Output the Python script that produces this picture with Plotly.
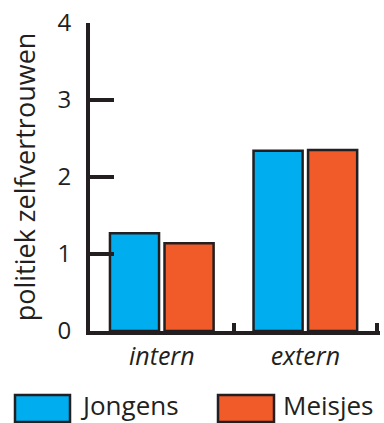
import plotly.graph_objects as go

categories = ["intern", "extern"]
jongens = [1.27, 2.34]
meisjes = [1.14, 2.35]
series_names = ["Jongens", "Meisjes"]
y_ticks = [0, 1, 2, 3, 4]

INK = "#231f20"
BLUE = "#00aeef"
ORANGE = "#f15a29"
FONT = "Open Sans"

fig = go.Figure()
fig.add_trace(go.Bar(x=categories, y=jongens, name=series_names[0],
                     marker=dict(color=BLUE, line=dict(color=INK, width=2.5))))
fig.add_trace(go.Bar(x=categories, y=meisjes, name=series_names[1],
                     marker=dict(color=ORANGE, line=dict(color=INK, width=2.5))))

fig.update_layout(
    width=384, height=423,
    margin=dict(l=90, r=4, t=23, b=92),
    paper_bgcolor="white", plot_bgcolor="white",
    barmode="group", bargap=0.24, bargroupgap=0.1,
    showlegend=False,
    font=dict(family=FONT, color=INK),
)
fig.update_xaxes(
    type="category", range=[-0.5, 1.52],
    showline=True, linecolor=INK, linewidth=4,
    ticks="inside", tickson="boundaries", ticklen=8, tickwidth=4, tickcolor=INK,
    tickfont=dict(size=25, style="italic", family=FONT, color=INK),
    showgrid=False, zeroline=False,
)
fig.update_yaxes(
    range=[0, 4], tickvals=y_ticks,
    showline=True, linecolor=INK, linewidth=4,
    ticks="inside", ticklen=24, tickwidth=4, tickcolor=INK,
    tickfont=dict(size=24, family=FONT, color=INK),
    ticklabelstandoff=10,
    showgrid=False, zeroline=False,
    title=dict(text="politiek zelfvertrouwen", font=dict(size=27, family=FONT, color=INK), standoff=15),
)

# custom legend
legend_items = [(series_names[0], BLUE, 15, 70, 78), (series_names[1], ORANGE, 218, 274, 281)]
for name, col, x0, x1, tx in legend_items:
    fig.add_shape(type="rect", xref="paper", yref="paper",
                  x0=(x0 - 90) / 290, x1=(x1 - 90) / 290,
                  y0=(331 - 422) / 308, y1=(331 - 395) / 308,
                  fillcolor=col, line=dict(color=INK, width=2.5))
    fig.add_annotation(text=name, xref="paper", yref="paper",
                       x=(tx - 90) / 290, y=(331 - 405) / 308,
                       xanchor="left", yanchor="middle", showarrow=False,
                       font=dict(size=26, family=FONT, color=INK))

fig.write_html("out.html", config={"displayModeBar": False},
               post_script="document.body.style.margin='0';document.body.style.overflow='hidden';")
